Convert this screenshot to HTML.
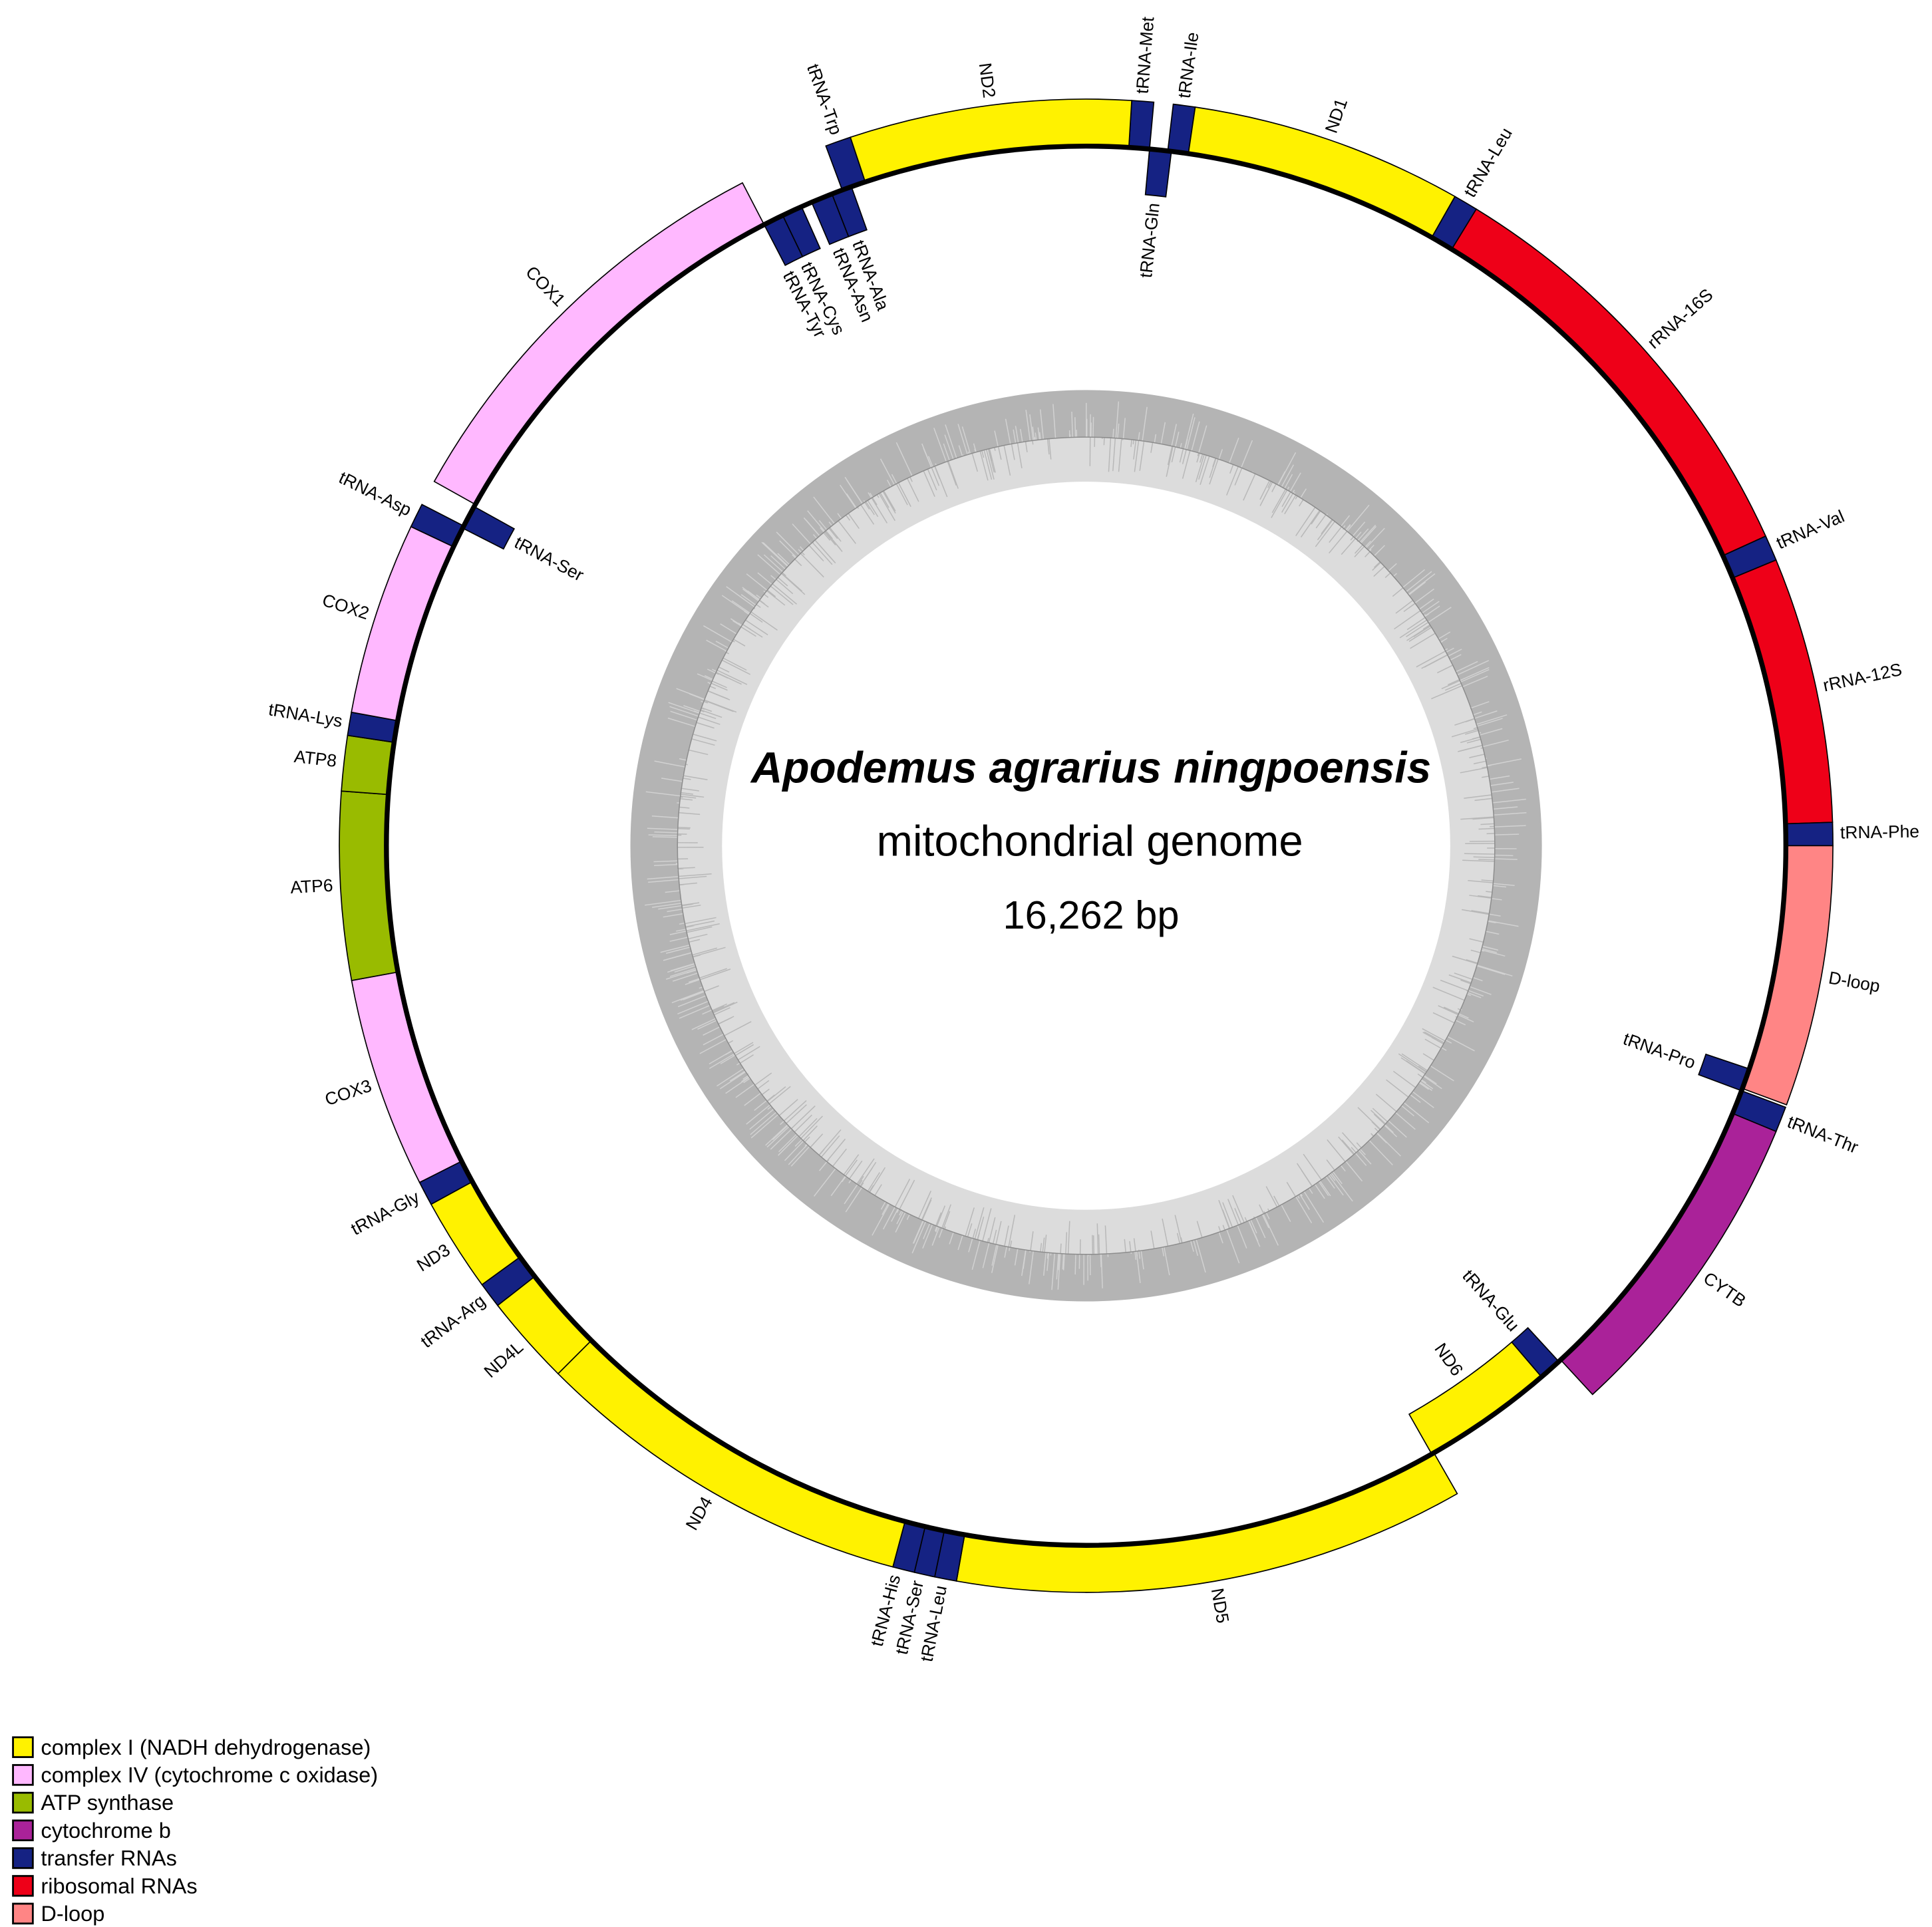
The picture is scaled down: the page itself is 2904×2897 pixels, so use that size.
<!DOCTYPE html>
<html><head><meta charset="utf-8">
<style>
html,body{margin:0;padding:0;background:#fff;}
svg{display:block;}
text{font-family:"Liberation Sans",Arial,sans-serif;}
</style></head>
<body>
<svg id="s" xmlns="http://www.w3.org/2000/svg" width="2904" height="2897" viewBox="0 0 1560 1556.2">
<rect width="1560" height="1557" fill="#fff"/>
<g id="gc"></g>
<g id="feat"></g>
<circle cx="877" cy="683" r="565" fill="none" stroke="#000" stroke-width="4"/>
<g id="lab" font-size="14.2" fill="#000"></g>
<text x="881" y="632" text-anchor="middle" font-size="35.3" font-weight="bold" font-style="italic">Apodemus agrarius ningpoensis</text>
<text x="880" y="691" text-anchor="middle" font-size="35">mitochondrial genome</text>
<text x="881" y="750" text-anchor="middle" font-size="32">16,262 bp</text>
<g font-size="17.5">
<rect x="10.5" y="1403" width="16" height="16" fill="#fff200" stroke="#000" stroke-width="1.5"/><text x="33" y="1417">complex I (NADH dehydrogenase)</text>
<rect x="10.5" y="1425.4" width="16" height="16" fill="#ffb8ff" stroke="#000" stroke-width="1.5"/><text x="33" y="1439.4">complex IV (cytochrome c oxidase)</text>
<rect x="10.5" y="1447.8" width="16" height="16" fill="#99bb00" stroke="#000" stroke-width="1.5"/><text x="33" y="1461.8">ATP synthase</text>
<rect x="10.5" y="1470.2" width="16" height="16" fill="#aa2299" stroke="#000" stroke-width="1.5"/><text x="33" y="1484.2">cytochrome b</text>
<rect x="10.5" y="1492.6" width="16" height="16" fill="#152283" stroke="#000" stroke-width="1.5"/><text x="33" y="1506.6">transfer RNAs</text>
<rect x="10.5" y="1515" width="16" height="16" fill="#ee0018" stroke="#000" stroke-width="1.5"/><text x="33" y="1529">ribosomal RNAs</text>
<rect x="10.5" y="1537.4" width="16" height="16" fill="#ff8585" stroke="#000" stroke-width="1.5"/><text x="33" y="1551.4">D-loop</text>
</g>
</svg>
<script>
(function(){
var NS="http://www.w3.org/2000/svg",cx=877,cy=683;
function P(r,a){var t=a*Math.PI/180;return [cx+r*Math.sin(t),cy-r*Math.cos(t)];}
function el(n,at,par){var e=document.createElementNS(NS,n);for(var k in at)e.setAttribute(k,at[k]);par.appendChild(e);return e;}
var gc=document.getElementById('gc');
el('circle',{cx:cx,cy:cy,r:349,fill:'none',stroke:'#b4b4b4','stroke-width':38},gc);
el('circle',{cx:cx,cy:cy,r:312,fill:'none',stroke:'#dcdcdc','stroke-width':36},gc);
var seed=7;function rnd(){seed=(seed*16807)%2147483647;return seed/2147483647;}
var d1='',d2='';
for(var i=0;i<900;i++){var a=rnd()*360,len=rnd();
 if(rnd()<0.5){var r0=330+len*30,p=P(330,a),q=P(r0,a);d1+='M'+p[0].toFixed(1)+' '+p[1].toFixed(1)+'L'+q[0].toFixed(1)+' '+q[1].toFixed(1);}
 else {var r1=330-len*28,p=P(330,a),q=P(r1,a);d2+='M'+p[0].toFixed(1)+' '+p[1].toFixed(1)+'L'+q[0].toFixed(1)+' '+q[1].toFixed(1);}
}
el('path',{d:d1,stroke:'#d2d2d2','stroke-width':0.8,fill:'none'},gc);
el('path',{d:d2,stroke:'#b8b8b8','stroke-width':0.8,fill:'none'},gc);
el('circle',{cx:cx,cy:cy,r:330,fill:'none',stroke:'#8c8c8c','stroke-width':0.8},gc);
var Y='#fff200',K='#ffb8ff',G='#99bb00',C='#aa2299',T='#152283',R='#ee0018',D='#ff8585';
// name,start,end,color,outer,labelAngle(optional)
var F=[
['tRNA-Met',3.5,5.2,T,1],['tRNA-Ile',6.7,8.4,T,1],['ND1',8.4,29.6,Y,1],['tRNA-Leu',29.6,31.5,T,1],
['rRNA-16S',31.5,65.5,R,1],['tRNA-Val',65.5,67.5,T,1],['rRNA-12S',67.5,88.2,R,1],['tRNA-Phe',88.2,90,T,1],
['D-loop',90,110.3,D,1],['tRNA-Pro',108.6,110.5,T,0,109.8],['tRNA-Thr',110.5,112.5,T,1],['CYTB',112.5,137.3,C,1],
['tRNA-Glu',137.5,139.4,T,0],['ND6',139.4,150.4,Y,0],['ND5',150.2,190,Y,1],['tRNA-Leu',190,191.7,T,1,191.0],
['tRNA-Ser',191.7,193.3,T,1,192.8],['tRNA-His',193.3,195,T,1,194.6],['ND4',195,225,Y,1],['ND4L',225,232,Y,1],
['tRNA-Arg',232,234,T,1],['ND3',234,241.3,Y,1],['tRNA-Gly',241.3,243.2,T,1],['COX3',243.2,259.6,K,1],
['ATP6',259.6,274.2,G,1],['ATP8',274.2,278.5,G,1],['tRNA-Lys',278.5,280.3,T,1],['COX2',280.3,295.3,K,1],
['tRNA-Asp',295.3,297.2,T,1],['tRNA-Ser',297,299,T,0],['COX1',299.2,332.6,K,1],
['tRNA-Tyr',332.6,334.3,T,0,332.4],['tRNA-Cys',334.3,336,T,0,334.2],['tRNA-Asn',336.9,338.7,T,0,337.3],['tRNA-Ala',338.7,340.4,T,0,339.2],
['tRNA-Trp',339.6,341.6,T,1],['ND2',341.6,363.5,Y,1],['tRNA-Gln',5.2,7,T,0]
];
var fg=document.getElementById('feat'),lg=document.getElementById('lab');
F.forEach(function(f){
 var ri,ro;if(f[4]){ri=565;ro=603;}else{ri=528;ro=565;}
 var a0=f[1],a1=f[2],big=(a1-a0)>180?1:0;
 var p1=P(ro,a0),p2=P(ro,a1),p3=P(ri,a1),p4=P(ri,a0);
 var d='M'+p1+'A'+ro+' '+ro+' 0 '+big+' 1 '+p2+'L'+p3+'A'+ri+' '+ri+' 0 '+big+' 0 '+p4+'Z';
 el('path',{d:d,fill:f[3],stroke:'#000','stroke-width':0.9},fg);
 var m=(f.length>5)?f[5]:(a0+a1)/2;m=((m%360)+360)%360;
 var right=m<180, r, anchor, rot;
 if(f[4]){ r=609; if(right){anchor='start';rot=m-90;} else {anchor='end';rot=m+90;} }
 else { r=522; if(right){anchor='end';rot=m-90;} else {anchor='start';rot=m+90;} }
 var p=P(r,m);
 var t=el('text',{x:0,y:0,'text-anchor':anchor,'dominant-baseline':'middle',transform:'translate('+p[0].toFixed(1)+','+p[1].toFixed(1)+') rotate('+rot.toFixed(1)+')'},lg);
 t.textContent=f[0];
});
})();
</script>
</body></html>
